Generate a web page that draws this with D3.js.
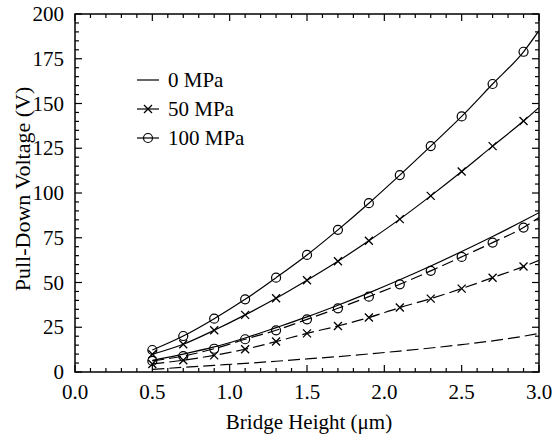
<!DOCTYPE html>
<html>
<head>
<meta charset="utf-8">
<script src="https://cdn.jsdelivr.net/npm/d3@7"></script>
<style>
  html, body { margin: 0; padding: 0; background: #fff; }
</style>
</head>
<body>
<svg id="chart" width="552" height="441" font-family="'Liberation Serif', 'Times New Roman', serif"></svg>
<script>
// ---- data ----
const heights = [0.5, 0.7, 0.9, 1.1, 1.3, 1.5, 1.7, 1.9, 2.1, 2.3, 2.5, 2.7, 2.9, 3.0];
const markerHeights = [0.5, 0.7, 0.9, 1.1, 1.3, 1.5, 1.7, 1.9, 2.1, 2.3, 2.5, 2.7, 2.9];

// solid curves
const solid0   = [6.5, 10.0, 14.0, 19.0, 24.8, 30.8, 37.3, 44.2, 51.5, 59.2, 67.3, 75.7, 84.5, 89.0];
const solid50  = [9.9, 15.5, 23.3, 31.9, 41.2, 51.3, 61.9, 73.3, 85.4, 98.4, 112.0, 126.2, 140.2, 147.8];
const solid100 = [12.3, 20.1, 29.8, 40.6, 52.7, 65.4, 79.4, 94.3, 110.0, 126.2, 142.8, 160.9, 178.9, 190.7];
// dashed curves
const dashed0   = [1.5, 2.6, 3.7, 4.8, 6.0, 7.3, 8.6, 10.1, 11.7, 13.4, 15.3, 17.4, 20.0, 21.5];
const dashed50  = [4.5, 6.6, 9.3, 12.7, 17.0, 21.6, 25.7, 30.4, 36.0, 41.0, 46.6, 52.7, 58.9, 62.4];
const dashed100 = [6.2, 8.9, 13.0, 18.3, 23.3, 29.4, 35.6, 42.1, 49.0, 56.5, 64.3, 72.3, 80.7, 86.3];

const xTicks = [0.0, 0.5, 1.0, 1.5, 2.0, 2.5, 3.0];
const yTicks = [0, 25, 50, 75, 100, 125, 150, 175, 200];
const legendLabels = ["0 MPa", "50 MPa", "100 MPa"];
const xTitle = "Bridge Height (\u03bcm)";
const yTitle = "Pull-Down Voltage (V)";

// ---- layout ----
const L = 75, R = 539, T = 14, B = 372;
const FONT = "'Liberation Serif', 'Times New Roman', serif";
const svg = d3.select("#chart");
const x = d3.scaleLinear().domain([0, 3]).range([L, R]);
const y = d3.scaleLinear().domain([0, 200]).range([B, T]);

const series = [
  { vals: solid0,    dash: null,   marker: null },
  { vals: solid50,   dash: null,   marker: "x" },
  { vals: solid100,  dash: null,   marker: "o" },
  { vals: dashed0,   dash: "12,5", marker: null },
  { vals: dashed50,  dash: "12,5", marker: "x" },
  { vals: dashed100, dash: "12,5", marker: "o" }
];

const line = d3.line().x(d => x(d[0])).y(d => y(d[1])).curve(d3.curveMonotoneX);

const plot = svg.append("g");
plot.append("defs").append("clipPath").attr("id", "clip")
  .append("rect").attr("x", L).attr("y", T).attr("width", R - L).attr("height", B - T);

function drawMarker(g, type, cx, cy) {
  if (type === "o") {
    g.append("circle").attr("cx", cx).attr("cy", cy).attr("r", 4.5)
      .attr("fill", "none").attr("stroke", "#000").attr("stroke-width", 1.2);
  } else if (type === "x") {
    const s = 4;
    g.append("path")
      .attr("d", `M${cx - s},${cy - s}L${cx + s},${cy + s}M${cx - s},${cy + s}L${cx + s},${cy - s}`)
      .attr("stroke", "#000").attr("stroke-width", 1.3).attr("fill", "none");
  }
}

series.forEach(s => {
  const pts = heights.map((h, i) => [h, s.vals[i]]);
  plot.append("path").attr("d", line(pts)).attr("fill", "none")
    .attr("stroke", "#000").attr("stroke-width", 1.2)
    .attr("stroke-dasharray", s.dash).attr("clip-path", "url(#clip)");
  if (s.marker) {
    markerHeights.forEach(h => {
      const i = heights.indexOf(h);
      drawMarker(plot, s.marker, x(h), y(s.vals[i]));
    });
  }
});

// ---- axes: frame + inward ticks on all sides ----
const axisG = svg.append("g");
const xMinor = d3.range(0, 31).map(d => d / 10);
const yMinor = d3.range(0, 41).map(d => d * 5);

xMinor.forEach(v => {
  const major = Math.abs(v * 2 - Math.round(v * 2)) < 1e-6;
  const len = major ? 7 : 4;
  axisG.append("line").attr("x1", x(v)).attr("x2", x(v)).attr("y1", B).attr("y2", B - len).attr("stroke", "#000").attr("stroke-width", 1.2);
  axisG.append("line").attr("x1", x(v)).attr("x2", x(v)).attr("y1", T).attr("y2", T + len).attr("stroke", "#000").attr("stroke-width", 1.2);
});
yMinor.forEach(v => {
  const major = v % 25 === 0;
  const len = major ? 7 : 4;
  axisG.append("line").attr("y1", y(v)).attr("y2", y(v)).attr("x1", L).attr("x2", L + len).attr("stroke", "#000").attr("stroke-width", 1.2);
  axisG.append("line").attr("y1", y(v)).attr("y2", y(v)).attr("x1", R).attr("x2", R - len).attr("stroke", "#000").attr("stroke-width", 1.2);
});
axisG.append("rect").attr("x", L).attr("y", T).attr("width", R - L).attr("height", B - T)
  .attr("fill", "none").attr("stroke", "#000").attr("stroke-width", 1.5);

// tick labels
svg.append("g").selectAll("text").data(xTicks).join("text")
  .attr("font-family", FONT)
  .attr("x", d => x(d)).attr("y", B + 27).attr("text-anchor", "middle")
  .attr("font-size", 21).text(d => d.toFixed(1));
svg.append("g").selectAll("text").data(yTicks).join("text")
  .attr("font-family", FONT)
  .attr("x", L - 11).attr("y", d => y(d) + 7).attr("text-anchor", "end")
  .attr("font-size", 21).text(d => d);

// axis titles
svg.append("text").attr("font-family", FONT)
  .attr("x", (L + R) / 2 + 2).attr("y", 429).attr("text-anchor", "middle")
  .attr("font-size", 21).text(xTitle);
svg.append("text").attr("font-family", FONT)
  .attr("transform", `translate(30,${(T + B) / 2 - 4}) rotate(-90)`)
  .attr("text-anchor", "middle").attr("font-size", 22).text(yTitle);

// ---- legend ----
const legend = svg.append("g");
const legendMarkers = [null, "x", "o"];
legendLabels.forEach((lab, i) => {
  const ly = 80 + i * 29;
  legend.append("line").attr("x1", 137).attr("x2", 159).attr("y1", ly).attr("y2", ly)
    .attr("stroke", "#000").attr("stroke-width", 1.2);
  if (legendMarkers[i]) drawMarker(legend, legendMarkers[i], 148, ly);
  legend.append("text").attr("font-family", FONT)
    .attr("x", 168).attr("y", ly + 7).attr("font-size", 21).text(lab);
});
</script>
</body>
</html>
